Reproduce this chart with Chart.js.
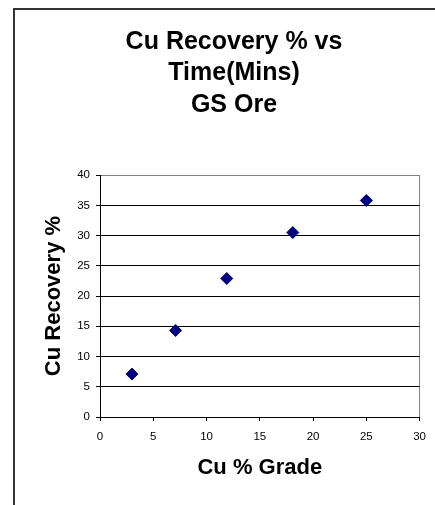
<!DOCTYPE html>
<html>
<head>
<meta charset="utf-8">
<script src="https://cdn.jsdelivr.net/npm/chart.js@4/dist/chart.umd.min.js"></script>
<style>
  html, body { margin: 0; padding: 0; background: #fff; }
  #wrap { width: 435px; height: 505px; }
</style>
</head>
<body>
<div id="wrap"><canvas id="chart" width="435" height="505"></canvas></div>
<script>
// values
const gradeValues = [3, 7.1, 11.9, 18.1, 25];
const recoveryValues = [7.1, 14.3, 22.9, 30.5, 35.8];
const titleLines = ['Cu Recovery % vs', 'Time(Mins)', 'GS Ore'];
const xAxisTitle = 'Cu % Grade';
const yAxisTitle = 'Cu Recovery %';

const fontFamily = "'Liberation Sans', Arial, sans-serif";

const points = gradeValues.map((g, i) => ({ x: g, y: recoveryValues[i] }));

// left and top frame of the chart object
const framePlugin = {
    id: 'frame',
    beforeDraw(chart) {
        const ctx = chart.ctx;
        ctx.save();
        ctx.fillStyle = '#fff';
        ctx.fillRect(0, 0, chart.width, chart.height);
        ctx.fillStyle = '#333';
        ctx.fillRect(13, 8, 2, chart.height - 8);
        ctx.fillRect(13, 8, chart.width - 13, 2);
        ctx.restore();
    }
};

new Chart(document.getElementById('chart'), {
    type: 'scatter',
    data: {
        datasets: [{
            data: points,
            pointStyle: 'rectRot',
            pointRadius: 6,
            pointHoverRadius: 6,
            backgroundColor: '#000080',
            borderColor: '#000080',
            borderWidth: 1
        }]
    },
    options: {
        responsive: false,
        animation: false,
        layout: {
            padding: { left: 48, right: 15, top: 0, bottom: 0 }
        },
        plugins: {
            legend: { display: false },
            tooltip: { enabled: false },
            title: {
                display: true,
                text: titleLines,
                color: '#000',
                font: { family: fontFamily, size: 25, weight: 'bold', lineHeight: 1.268 },
                padding: { top: 26, bottom: 54 }
            }
        },
        scales: {
            x: {
                type: 'linear',
                min: 0,
                max: 30,
                ticks: {
                    stepSize: 5,
                    color: '#000',
                    padding: 9,
                    font: { family: fontFamily, size: 11.5 }
                },
                grid: {
                    drawOnChartArea: true,
                    color: (c) => (c.tick && c.tick.value === 30 ? '#808080' : 'rgba(0,0,0,0)'),
                    tickColor: '#000',
                    tickLength: 4,
                    lineWidth: 1
                },
                border: { color: '#000', width: 1 },
                title: {
                    display: true,
                    text: xAxisTitle,
                    color: '#000',
                    font: { family: fontFamily, size: 22, weight: 'bold', lineHeight: 1.2 },
                    padding: { top: 0, bottom: 23.5 }
                },
                afterFit(scale) {
                    scale.height = 88;
                }
            },
            y: {
                type: 'linear',
                min: 0,
                max: 40,
                ticks: {
                    stepSize: 5,
                    color: '#000',
                    padding: 6,
                    font: { family: fontFamily, size: 11.5 }
                },
                grid: {
                    color: (c) => (c.tick && c.tick.value === 40 ? '#808080' : '#000'),
                    tickColor: '#000',
                    tickLength: 4,
                    lineWidth: 1
                },
                border: { color: '#000', width: 1 },
                title: {
                    display: true,
                    text: yAxisTitle,
                    color: '#000',
                    font: { family: fontFamily, size: 22, weight: 'bold', lineHeight: 1.2 },
                    padding: { top: -7, bottom: 0 }
                },
                afterFit(scale) {
                    scale.width = 52;
                }
            }
        }
    },
    plugins: [framePlugin]
});
</script>
</body>
</html>
